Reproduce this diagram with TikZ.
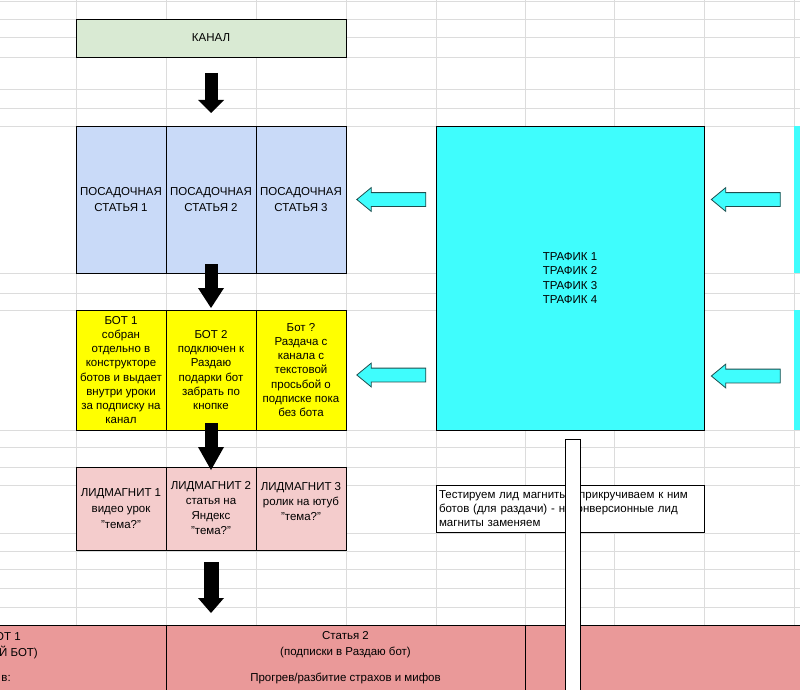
\documentclass[tikz,border=0pt]{standalone}
\usepackage{fontspec}
\setmainfont{Liberation Sans}
\usepackage{tikz}
\usetikzlibrary{arrows.meta, positioning, shapes.arrows, calc}
\usepackage{xcolor}

\definecolor{kanalgreen}{HTML}{D9EAD3}
\definecolor{posadblue}{HTML}{C9DAF8}
\definecolor{botyellow}{HTML}{FFFF00}
\definecolor{lmpink}{HTML}{F4CCCC}
\definecolor{rowred}{HTML}{EA9999}
\definecolor{trafcyan}{HTML}{3FFDFD}
\definecolor{gridgray}{HTML}{DCDCDC}
\definecolor{arrowedge}{HTML}{1F4F4F}

\newcommand{\cellfont}[1][14.2]{\fontsize{11.5}{#1}\selectfont}

\tikzset{
  cell/.style={draw, line width=0.8pt, outer sep=0pt, inner sep=1pt, align=center, font=\cellfont, minimum width=90pt},
  downarrow/.style={line width=13pt, -{Triangle[length=#1, width=26pt, line width=0pt]}},
  leftarrow/.style={single arrow, shape border rotate=180, draw=arrowedge, fill=trafcyan, line width=0.8pt,
    minimum height=69pt, minimum width=23pt, single arrow head extend=5pt, single arrow tip angle=79,
    inner xsep=0pt, inner ysep=6.5pt},
  sidebox/.style={fill=trafcyan, outer sep=0pt, minimum width=106pt},
}

\begin{document}
\begin{tikzpicture}[x=1pt, y=-1pt]
        \useasboundingbox (0,0) rectangle (800,690);
        \clip (0,0) rectangle (800,690);
        \fill[white] (0,0) rectangle (800,690);
        % sheet grid
        \foreach \gx in {76,166,256,346,436,525,614,704,794}
          \draw[gridgray, line width=0.7pt] (\gx,0) -- (\gx,690);
        \foreach \gy in {1,19,37,57,89,108,126,273,293,310,430,447,467,485,533,551,569,588,607,625}
          \draw[gridgray, line width=0.7pt] (0,\gy) -- (800,\gy);
        % channel
        \node[cell, fill=kanalgreen, minimum width=270pt, minimum height=38pt] (kanal) at (211,38) {КАНАЛ};
        % landing articles
        \node[cell, fill=posadblue, minimum height=147pt, font={\cellfont[15.6]}] (posad1) at (121,199.5) {ПОСАДОЧНАЯ\\СТАТЬЯ 1};
        \node[cell, fill=posadblue, minimum height=147pt, font={\cellfont[15.6]}, right=0pt of posad1] (posad2) {ПОСАДОЧНАЯ\\СТАТЬЯ 2};
        \node[cell, fill=posadblue, minimum height=147pt, font={\cellfont[15.6]}, right=0pt of posad2] (posad3) {ПОСАДОЧНАЯ\\СТАТЬЯ 3};
        % bots
        \node[cell, fill=botyellow, minimum height=120pt] (bot1) at (121,370) {БОТ 1\\собран\\отдельно в\\конструкторе\\ботов и выдает\\внутри уроки\\за подписку на\\канал};
        \node[cell, fill=botyellow, minimum height=120pt, right=0pt of bot1] (bot2) {БОТ 2\\подключен к\\Раздаю\\подарки бот\\забрать по\\кнопке};
        \node[cell, fill=botyellow, minimum height=120pt, right=0pt of bot2] (bot3) {Бот ?\\Раздача с\\канала с\\текстовой\\просьбой о\\подписке пока\\без бота};
        % lead magnets
        \node[cell, fill=lmpink, minimum height=83pt, font={\cellfont[16]}] (lm1) at (121,508.5) {ЛИДМАГНИТ 1\\видео урок\\"тема?"};
        \node[cell, fill=lmpink, minimum height=83pt, font={\cellfont[15]}, right=0pt of lm1] (lm2) {ЛИДМАГНИТ 2\\статья на\\Яндекс\\"тема?"};
        \node[cell, fill=lmpink, minimum height=83pt, font={\cellfont[15]}, right=0pt of lm2] (lm3) {ЛИДМАГНИТ 3\\ролик на ютуб\\"тема?"\\\mbox{}};
        % traffic
        \node[cell, fill=trafcyan, minimum width=268pt, minimum height=304pt] (traffic) at (570,278) {ТРАФИК 1\\ТРАФИК 2\\ТРАФИК 3\\ТРАФИК 4};
        \node[sidebox, minimum height=147pt] (side1) at (847,199.5) {};
        \node[sidebox, minimum height=120pt] (side2) at (847,370) {};
        % note
        \node[draw, fill=white, line width=0.8pt, outer sep=0pt, inner sep=3pt, minimum width=268pt, minimum height=47pt,
          text width=262pt, align=left, font={\cellfont[14]}] (note) at (570,508.5)
          {Тестируем лид магниты - прикручиваем к ним\\ботов (для раздачи) - неконверсионные лид\\магниты заменяем};
        % bottom row
        \node[cell, fill=rowred, minimum width=366pt, minimum height=66pt] (row1) at (-17,658) {};
        \node[cell, fill=rowred, minimum width=359pt, minimum height=66pt, font={\cellfont[16]}] (row2) at (345.5,658)
          {Статья 2\\(подписки в Раздаю бот)\\[10pt]Прогрев/разбитие страхов и мифов};
        \node[cell, fill=rowred, minimum width=375pt, minimum height=66pt] (row3) at (712.5,658) {};
        \node[font=\cellfont, inner sep=0pt, anchor=east] (row1a) at (21,636.5) {ОТ 1};
        \node[font=\cellfont, inner sep=0pt, anchor=east] (row1b) at (38,652.5) {Й БОТ)};
        \node[font=\cellfont, inner sep=0pt, anchor=east] (row1c) at (11,678.5) {в:};
        % black arrows down
        \draw[downarrow=13pt] ([yshift=-16pt]kanal.south) -- ([yshift=13pt]posad2.north);
        \draw[downarrow=20pt] ([yshift=9pt]posad2.south) -- ([yshift=2pt]bot2.north);
        \draw[downarrow=23pt] ([yshift=7pt]bot2.south) -- ([yshift=-3pt]lm2.north);
        \draw[downarrow=15pt, line width=15pt] ([yshift=-12pt]lm2.south) -- ([yshift=12pt]lm2.south |- row2.north);
        % cyan arrows left
        \node[leftarrow, xshift=4.5pt] (arrposad) at ($(posad3.east)!0.5!(traffic.west |- posad3.east)$) {};
        \node[leftarrow, xshift=4.5pt, yshift=-5pt] (arrbot) at ($(bot3.east)!0.5!(traffic.west |- bot3.east)$) {};
        \node[leftarrow, xshift=1pt] (arrside1) at ($(traffic.east |- side1.west)!0.5!(side1.west)$) {};
        \node[leftarrow, xshift=1pt, yshift=-6pt] (arrside2) at ($(traffic.east |- side2.west)!0.5!(side2.west)$) {};
        % strip
        \node[draw, fill=white, line width=0.8pt, outer sep=0pt, minimum width=15pt, minimum height=262pt] (strip) at (572.5,570) {};
      \end{tikzpicture}
\end{document}
